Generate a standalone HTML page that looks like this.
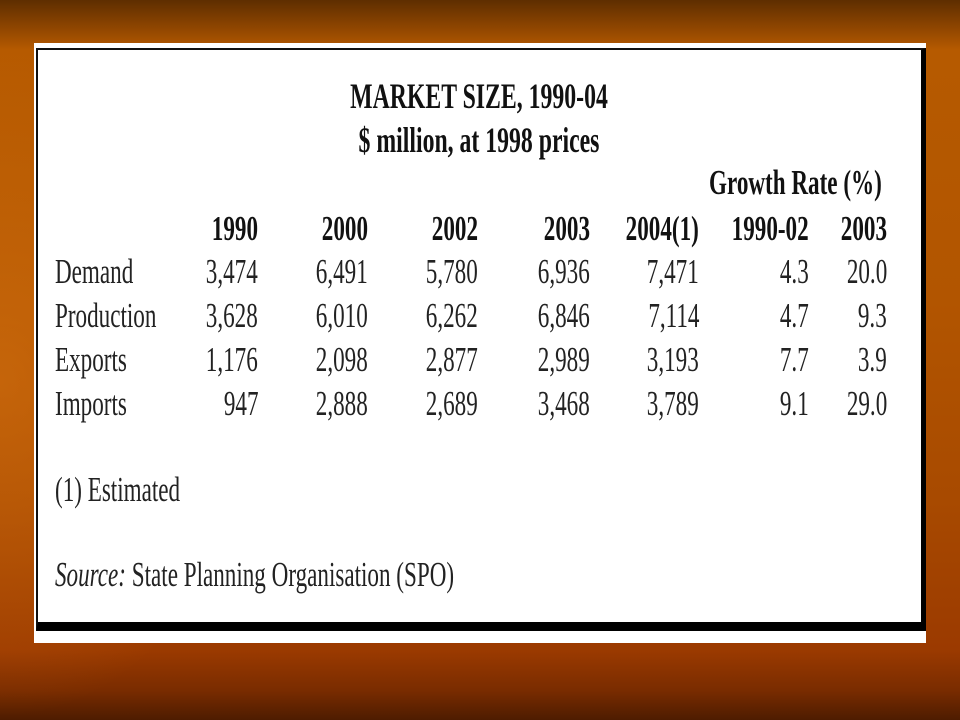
<!DOCTYPE html>
<html><head><meta charset="utf-8"><style>
html,body{margin:0;padding:0}
body{width:960px;height:720px;position:relative;overflow:hidden;
background:linear-gradient(180deg,#5e2e00 0px,#8a4300 25px,#b65a00 50px,#b25500 300px,#a84a00 500px,#9b3a00 650px,#7a2c00 690px,#4e1c00 720px);}
.glow{position:absolute;left:0;top:40px;width:260px;height:680px;background:radial-gradient(ellipse at 0% 50%,rgba(220,120,20,0.5),rgba(220,120,20,0) 70%)}
.card{position:absolute;left:34px;top:43px;width:892px;height:600px;background:#fff}
.frame{position:absolute;left:36px;top:48px;width:883px;height:572px;border-left:2px solid #111;border-top:2px solid #111;border-right:5px solid #000;border-bottom:9px solid #000}
.t{position:absolute;font-family:"Liberation Serif",serif;font-size:35px;color:#222;white-space:nowrap;line-height:1}
.r{transform-origin:100% 100%;transform:scaleX(0.66)}
.l{transform-origin:0 100%;transform:scaleX(0.66)}
.c{transform-origin:50% 100%;transform:scaleX(0.66)}
.b{font-weight:bold;color:#111}
</style></head><body>
<div class="glow"></div>
<div class="card"></div>
<div class="frame"></div>
<div id="root"></div>
<script>
const root=document.getElementById('root');
function place(txt,x,base,cls,name,size){
  const d=document.createElement('div');
  d.className='t '+cls;
  d.textContent=txt;
  
  
  const fs=size||35;
  d.style.fontSize=fs+'px';
  const top=base-fs*0.891;
  d.style.top=top+'px';
  if(cls.includes('r')){d.style.right=(960-x)+'px';}
  else if(cls.includes('c')){d.style.left=(x-300)+'px';d.style.width='600px';d.style.textAlign='center';}
  else d.style.left=x+'px';
  root.appendChild(d);
}
const categories=['Demand','Production','Exports','Imports'];
const headers=['1990','2000','2002','2003','2004(1)','1990-02','2003'];
const col1990=['3,474','3,628','1,176','947'];
const col2000=['6,491','6,010','2,098','2,888'];
const col2002=['5,780','6,262','2,877','2,689'];
const col2003=['6,936','6,846','2,989','3,468'];
const col2004=['7,471','7,114','3,193','3,789'];
const growth9002=['4.3','4.7','7.7','9.1'];
const growth2003=['20.0','9.3','3.9','29.0'];
const cols=[col1990,col2000,col2002,col2003,col2004,growth9002,growth2003];
const colRight=[258,368,478,590,699,809,887];
const rowBase=[285,329,373,417];
place('MARKET SIZE, 1990-04',479,110,'c b','title',36);
place('$ million, at 1998 prices',479,154,'c b','subtitle',36);
place('Growth Rate (%)',882,196,'r b','growth-rate-header');
headers.forEach((h,i)=>place(h,colRight[i],242,'r b','column-header'));
categories.forEach((c,j)=>{
  place(c,55,rowBase[j],'l','row-label');
  cols.forEach((col,i)=>place(col[j],colRight[i],rowBase[j],'r','table-cell'));
});
place('(1) Estimated',55,503,'l','footnote');
const s=document.createElement('div');
s.className='t l';
s.innerHTML='<i>Source:</i> State Planning Organisation (SPO)';


s.style.left='55px';s.style.top=(588-35*0.891)+'px';
root.appendChild(s);
</script>
</body></html>
